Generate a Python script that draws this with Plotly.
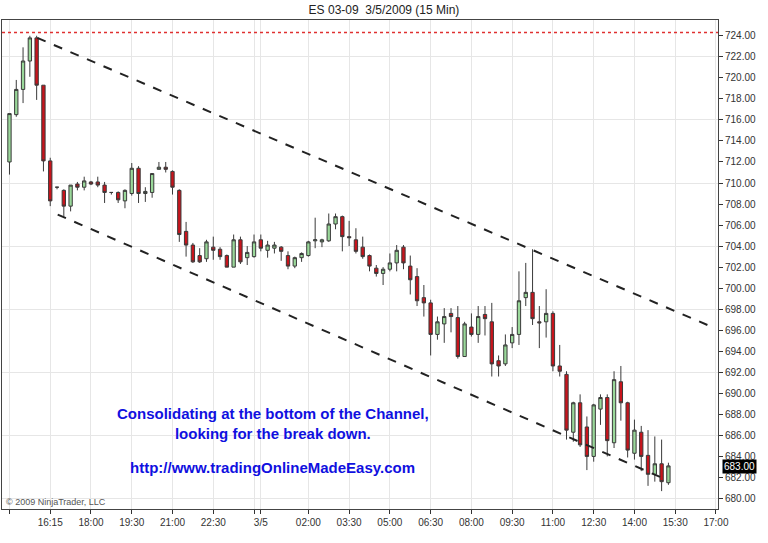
import plotly.graph_objects as go

# OHLC of 15-min bars (bar index 0 = 14:45 on 3/4)
opens = [712.0,716.5,718.9,721.6,723.8,719.3,712.1,709.6,709.3,707.8,709.9,709.6,710.1,710.1,709.8,709.1,709.1,708.3,709.0,711.4,
         709.0,709.1,711.3,711.5,711.1,709.3,705.4,704.1,703.1,702.8,703.9,703.7,703.1,702.0,704.6,702.9,703.0,704.6,703.6,703.8,
         703.9,703.1,702.1,702.9,703.1,704.5,704.4,704.5,706.1,706.8,704.9,704.6,703.9,703.1,701.9,701.4,701.8,702.4,703.9,702.1,
         701.1,699.1,698.6,695.6,696.6,697.6,697.2,693.5,696.3,695.6,697.5,696.8,693.1,692.8,694.8,695.6,699.1,699.6,696.8,696.8,
         697.6,692.6,691.8,686.3,689.1,686.8,684.0,688.5,689.6,685.3,691.1,689.1,684.3,686.3,684.1,682.3,683.3,681.5]
highs = [716.6,719.8,722.9,724.0,724.0,719.3,712.4,709.6,709.4,709.8,710.1,710.6,710.2,710.6,710.1,709.1,709.2,709.4,711.9,711.6,
         709.6,710.9,712.0,712.0,711.2,709.4,706.3,704.3,703.8,704.6,704.9,703.9,703.2,705.1,704.9,704.0,705.1,705.1,704.5,704.4,
         704.0,703.5,703.0,703.4,704.5,706.7,704.7,707.1,707.1,706.9,706.4,705.7,704.9,703.2,702.2,702.0,703.3,704.1,704.1,703.1,
         701.9,700.3,698.9,697.3,698.1,698.1,698.3,696.8,697.6,698.3,698.3,698.6,693.6,695.6,696.3,701.6,702.4,703.7,698.3,699.9,
         697.8,694.6,692.1,689.2,689.9,687.8,689.0,689.9,689.9,692.1,692.6,689.2,687.5,686.9,686.5,685.9,685.6,683.4]
lows = [710.8,716.3,717.6,720.1,717.9,711.1,707.8,709.4,706.8,707.3,709.3,709.3,709.8,709.6,708.1,708.9,708.1,707.6,708.8,708.1,
        708.2,708.6,711.3,711.0,708.9,704.4,703.0,702.4,702.4,702.5,702.7,702.7,702.0,702.0,702.3,702.2,702.9,703.5,702.9,703.3,
        702.6,701.8,701.9,702.5,703.0,703.8,703.9,704.4,705.6,703.5,704.0,703.3,702.8,701.6,701.1,700.3,701.6,701.6,701.8,699.4,
        698.3,697.3,693.6,695.1,694.8,695.8,693.3,693.5,695.4,694.8,695.5,691.6,691.6,692.6,694.3,694.6,698.3,696.5,694.3,695.3,
        692.1,691.6,685.6,685.4,684.9,682.7,683.5,687.0,684.0,684.8,687.4,683.9,683.7,682.6,681.2,681.6,680.7,681.3]
closes = [716.6,718.9,721.6,723.8,719.3,712.1,708.3,709.6,707.8,709.8,709.6,710.2,709.9,709.8,709.1,709.1,708.4,709.3,711.4,709.0,
          709.2,710.9,711.5,711.3,709.6,705.1,704.1,702.5,702.5,704.4,703.6,703.0,702.0,704.6,702.5,703.4,704.4,703.8,704.1,704.1,
          703.5,702.1,702.9,703.3,704.4,704.6,704.6,706.1,706.8,704.9,704.8,703.5,703.0,702.1,701.4,701.8,702.4,703.6,702.4,700.8,
          698.8,698.6,695.6,696.8,697.3,697.3,693.5,696.6,695.6,697.3,697.1,692.8,692.6,694.6,695.6,698.8,699.6,697.1,696.7,697.6,
          692.6,692.1,686.5,689.1,685.1,684.0,688.9,689.6,685.5,691.3,689.1,684.6,686.5,684.0,682.3,683.3,681.6,683.1]
bar_index = list(range(len(opens)))

tick_pos = [0, 6, 12, 18, 24, 30, 36, 37, 44, 50, 56, 62, 68, 74, 80, 86, 92, 98, 104]
tick_text = ["14:45", "16:15", "18:00", "19:30", "21:00", "22:30", "", "3/5", "02:00", "03:30",
             "05:00", "06:30", "08:00", "09:30", "11:00", "12:30", "14:00", "15:30", "17:00"]

upper_x = [4.1, 103.1]
upper_y = [723.8, 696.4]
lower_x = [7.1, 97.0]
lower_y = [707.0, 681.7]
session_high = 724.3
last_price = 683.0

fig = go.Figure()
fig.add_trace(go.Scatter(x=[0], y=[700], yaxis="y2", mode="markers",
                         marker=dict(opacity=0), showlegend=False, hoverinfo="skip"))
fig.add_trace(go.Candlestick(
    x=bar_index, open=opens, high=highs, low=lows, close=closes,
    increasing=dict(fillcolor="#9ad89a", line=dict(color="#3a3a3a", width=1)),
    decreasing=dict(fillcolor="#c8141c", line=dict(color="#3a3a3a", width=1)),
    whiskerwidth=0, showlegend=False, hoverinfo="skip"))
for xs, ys in [(upper_x, upper_y), (lower_x, lower_y)]:
    fig.add_trace(go.Scatter(x=xs, y=ys, mode="lines", showlegend=False,
                             line=dict(color="#222", width=2, dash="dash")))
fig.add_trace(go.Scatter(x=[-1.1, 104.3], y=[session_high, session_high], mode="lines",
                         showlegend=False, line=dict(color="#e03030", width=1.5, dash="dot")))

axfont = dict(family="Arial, Liberation Sans", size=10, color="#333")
fig.update_layout(
    width=768, height=543, paper_bgcolor="white", plot_bgcolor="white",
    margin=dict(l=2, r=50, t=20, b=34, autoexpand=False),
    title=dict(text="ES 03-09  3/5/2009 (15 Min)", x=0.5, y=0.982, xanchor="center", yanchor="middle",
               font=dict(family="Arial, Liberation Sans", size=12, color="#222")),
    xaxis=dict(range=[-1.1, 104.3], tickvals=tick_pos, ticktext=tick_text, showgrid=True,
               gridcolor="#e6e6e6", ticks="outside", ticklen=4, tickcolor="#333", automargin=False,
               showline=True, linecolor="#444", mirror=True, rangeslider=dict(visible=False),
               tickfont=axfont, zeroline=False),
    yaxis=dict(range=[679.0, 725.5], side="right", dtick=2, tick0=680, tickformat=".2f",
               showgrid=False, ticks="outside", ticklen=4, tickcolor="#333", automargin=False,
               showline=True, linecolor="#444", mirror=True, tickfont=axfont, zeroline=False),
    yaxis2=dict(range=[679.0, 725.5], overlaying="y", side="right", tick0=680, dtick=6,
                showticklabels=False, showgrid=True, gridcolor="#e6e6e6", zeroline=False,
                automargin=False),
    font=dict(family="Arial, Liberation Sans"),
)

fig.add_annotation(x=104.3, y=last_price, xref="x", yref="y", text="683.00", showarrow=False,
                   xanchor="left", bgcolor="black", font=dict(color="white", size=10),
                   borderpad=1, xshift=4)
fig.add_annotation(x=0.378, y=0.175, xref="paper", yref="paper", showarrow=False, yanchor="middle",
                   text="<b>Consolidating at the bottom of the Channel,<br>looking for the break down.</b>",
                   font=dict(family="Arial, Liberation Sans", size=15, color="#1010e0"), align="center")
fig.add_annotation(x=0.378, y=0.084, xref="paper", yref="paper", showarrow=False, yanchor="middle",
                   text="<b>http://www.tradingOnlineMadeEasy.com</b>",
                   font=dict(family="Arial, Liberation Sans", size=15, color="#1010e0"))
fig.add_annotation(x=0.003, y=0.0, xref="paper", yref="paper", xanchor="left", yanchor="bottom",
                   showarrow=False, text="© 2009 NinjaTrader, LLC",
                   font=dict(size=9, color="#555"))
fig.write_html("out.html", config={"displayModeBar": False},
               post_script="document.body.style.margin='0';document.body.style.overflow='hidden';")
